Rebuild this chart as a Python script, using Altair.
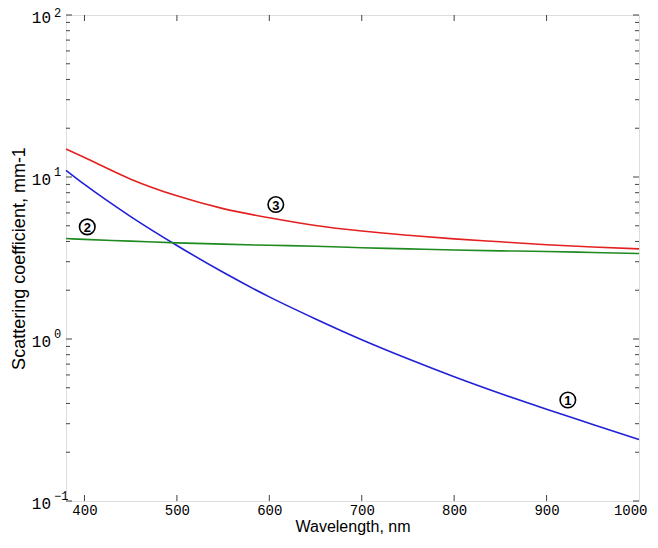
import altair as alt
import pandas as pd

# ---- data ----
wavelength = [380, 400, 450, 500, 550, 600, 650, 700, 750, 800, 850, 900, 950, 1000]
curve1 = [11.0, 9.0, 5.7, 3.78, 2.58, 1.82, 1.33, 0.99, 0.755, 0.585, 0.461, 0.368, 0.297, 0.24]
curve2 = [4.17, 4.12, 4.02, 3.92, 3.85, 3.79, 3.74, 3.66, 3.60, 3.54, 3.50, 3.47, 3.42, 3.37]
curve3 = [14.9, 13.2, 9.7, 7.65, 6.38, 5.60, 5.02, 4.64, 4.37, 4.15, 3.98, 3.82, 3.70, 3.60]
series_names = ["1", "2", "3"]
series_colors = ["#2020d8", "#1f8a1f", "#e42020"]

label_names = ["1", "2", "3"]
label_wl = [923, 403, 607]
label_val = [0.42, 4.92, 6.76]

x_ticks = [400, 500, 600, 700, 800, 900, 1000]
y_major = [0.1, 1, 10, 100]
y_exp = ["\u22121", "0", "1", "2"]
y_minor = [0.2, 0.3, 0.4, 0.5, 0.6, 0.7, 0.8, 0.9,
           2, 3, 4, 5, 6, 7, 8, 9,
           20, 30, 40, 50, 60, 70, 80, 90]

W, H = 573, 486

rows = []
for name, vals in zip(series_names, [curve1, curve2, curve3]):
    for w, v in zip(wavelength, vals):
        rows.append({"wl": w, "val": v, "series": name})
df = pd.DataFrame(rows)

lab_df = pd.DataFrame({"name": label_names, "wl": label_wl, "val": label_val})
xt_df = pd.DataFrame({"wl": x_ticks[:-1]})
ymaj_df = pd.DataFrame({"val": y_major, "exp": y_exp, "base": ["10"] * len(y_major)})
ymin_df = pd.DataFrame({"val": y_minor})

xs = alt.Scale(domain=[380, 1000], nice=False, zero=False)
ys = alt.Scale(type="log", domain=[0.1, 100], nice=False)

lines = alt.Chart(df).mark_line(strokeWidth=1.6, interpolate="monotone").encode(
    x=alt.X("wl:Q", scale=xs, axis=alt.Axis(
        values=x_ticks, format="d", ticks=False, domain=False, grid=False,
        labelFont="Liberation Mono", labelFontSize=14, labelColor="black",
        labelPadding=2, labelFlush=True, labelFlushOffset=8,
        title="Wavelength, nm", titleFont="Liberation Sans",
        titleFontSize=16, titleFontWeight="normal", titleColor="black",
        titlePadding=1)),
    y=alt.Y("val:Q", scale=ys, axis=alt.Axis(
        labels=False, ticks=False, domain=False, grid=False,
        title="Scattering coefficient, mm-1", titleFont="Liberation Sans",
        titleFontSize=18, titleFontWeight="normal", titleColor="black",
        titlePadding=38)),
    color=alt.Color("series:N", scale=alt.Scale(domain=series_names, range=series_colors), legend=None),
)

tick_color = "#444444"
xb = alt.Chart(xt_df).mark_rule(color=tick_color).encode(
    x=alt.X("wl:Q", scale=xs), y=alt.value(H), y2=alt.value(H - 6))
xtp = alt.Chart(xt_df).mark_rule(color=tick_color).encode(
    x=alt.X("wl:Q", scale=xs), y=alt.value(0), y2=alt.value(6))
ylm = alt.Chart(ymaj_df).mark_rule(color=tick_color).encode(
    y=alt.Y("val:Q", scale=ys), x=alt.value(0), x2=alt.value(6))
yrm = alt.Chart(ymaj_df).mark_rule(color=tick_color).encode(
    y=alt.Y("val:Q", scale=ys), x=alt.value(W), x2=alt.value(W - 6))
yln = alt.Chart(ymin_df).mark_rule(color=tick_color).encode(
    y=alt.Y("val:Q", scale=ys), x=alt.value(0), x2=alt.value(4))
yrn = alt.Chart(ymin_df).mark_rule(color=tick_color).encode(
    y=alt.Y("val:Q", scale=ys), x=alt.value(W), x2=alt.value(W - 4))

ybase = alt.Chart(ymaj_df).mark_text(
    font="Liberation Mono", fontSize=16, color="black", align="right",
    baseline="middle", dy=3).encode(
    y=alt.Y("val:Q", scale=ys), x=alt.value(-15), text="base:N")
yexp = alt.Chart(ymaj_df).transform_filter("datum.val < 50").mark_text(
    font="Liberation Mono", fontSize=12, color="black", align="left",
    baseline="middle", dy=-5).encode(
    y=alt.Y("val:Q", scale=ys), x=alt.value(-12), text="exp:N")
yexp_top = alt.Chart(ymaj_df).transform_filter("datum.val > 50").mark_text(
    font="Liberation Mono", fontSize=12, color="black", align="left",
    baseline="middle", dy=-2).encode(
    y=alt.Y("val:Q", scale=ys), x=alt.value(-12), text="exp:N")

circ = alt.Chart(lab_df).mark_point(
    shape="circle", size=240, filled=True, fill="white", stroke="black",
    strokeWidth=1.6, opacity=1).encode(
    x=alt.X("wl:Q", scale=xs), y=alt.Y("val:Q", scale=ys))
circ_txt = alt.Chart(lab_df).mark_text(
    font="Liberation Sans", fontSize=13, fontWeight="bold", color="black",
    align="center", baseline="middle", dy=1).encode(
    x=alt.X("wl:Q", scale=xs), y=alt.Y("val:Q", scale=ys), text="name:N")

chart = alt.layer(lines, xb, xtp, ylm, yrm, yln, yrn, ybase, yexp, yexp_top, circ, circ_txt).properties(
    width=W, height=H,
    autosize=alt.AutoSizeParams(type="none"),
    padding={"left": 58, "top": 7, "right": 9, "bottom": 35},
).configure_view(stroke="#444444", strokeWidth=1.2).configure(background="white")

chart.save("out.html", embed_options={"renderer": "svg", "actions": False})
